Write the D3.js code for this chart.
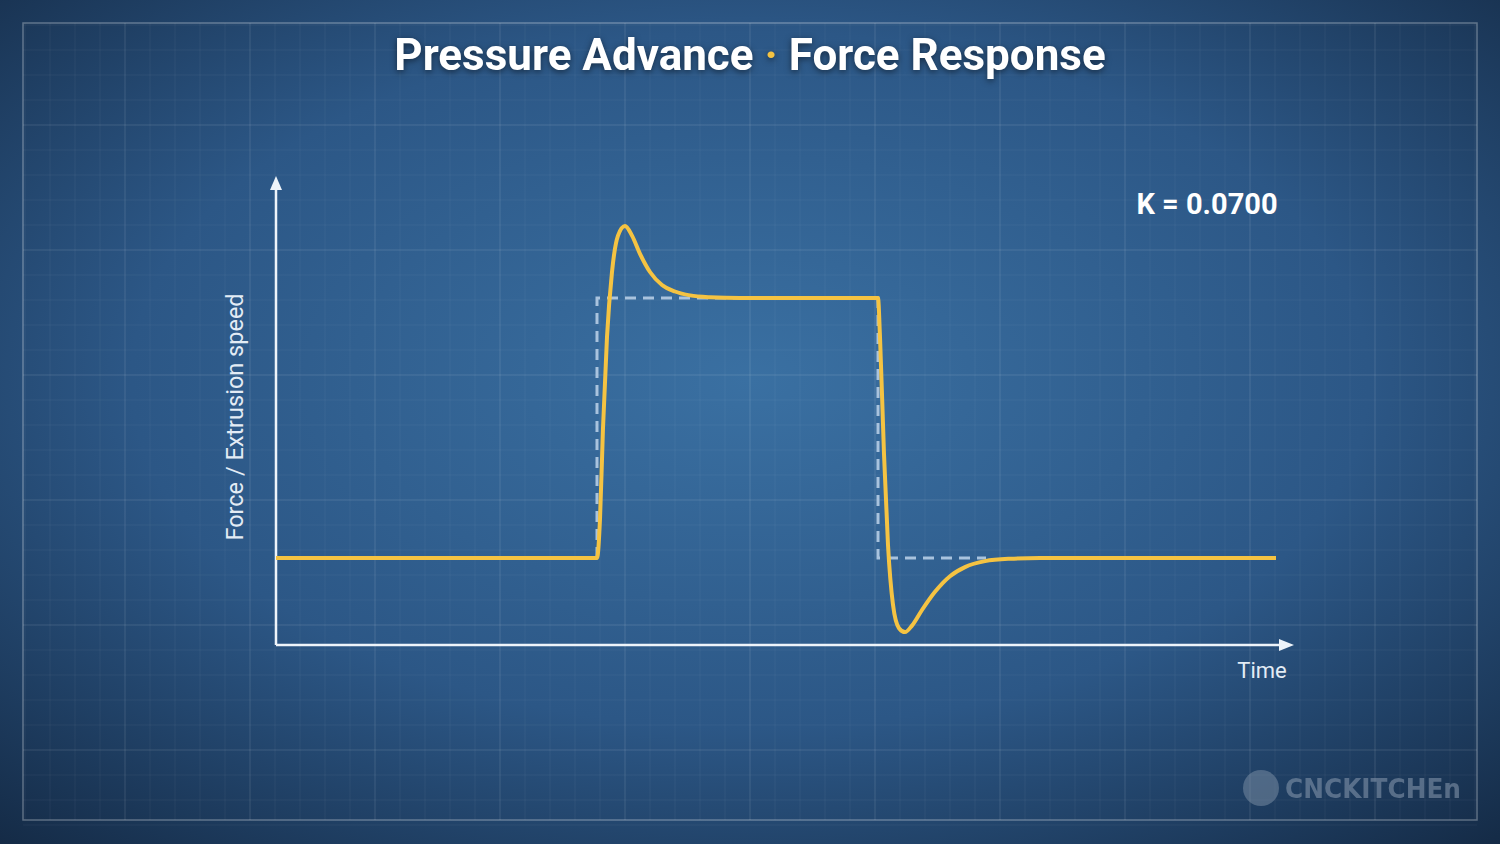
<!DOCTYPE html>
<html><head><meta charset="utf-8">
<script src="https://cdn.jsdelivr.net/npm/d3@7"></script>
<style>body{margin:0;background:#1e3a5c;overflow:hidden}</style>
</head><body><svg id="c" width="1500" height="844"></svg>
<script>
// data: time (picture-like units, 276..1276) and normalised force (0 = idle, 1 = commanded)
const curveTime  = [276,597,600,603,607,612,618,625,632,640,650,662,675,690,710,740,878,880,884,888,893,899,905,912,922,935,950,965,985,1010,1040,1276];
const curveForce = [0,0,0.15,0.5,0.85,1.1,1.24,1.277,1.24,1.17,1.1,1.05,1.025,1.01,1.003,1.0,1.0,0.85,0.4,0.05,-0.18,-0.27,-0.285,-0.26,-0.2,-0.13,-0.07,-0.035,-0.012,-0.003,0,0];
const stepTime  = [597,597,878,878,986];
const stepForce = [0,1,1,0,0];
const titleParts = ["Pressure Advance", "·", "Force Response"];
const kLabel = "K = 0.0700";

const W=1500,H=844;
const svg=d3.select("#c");
const defs=svg.append("defs");
const rg=defs.append("radialGradient").attr("id","bg").attr("cx","50%").attr("cy","45%").attr("r","75%");
rg.append("stop").attr("offset","0%").attr("stop-color","#3a70a2");
rg.append("stop").attr("offset","55%").attr("stop-color","#2c5786");
rg.append("stop").attr("offset","100%").attr("stop-color","#142a45");
svg.append("rect").attr("width",W).attr("height",H).attr("fill","url(#bg)");

// grid
const g=svg.append("g");
for(let xx=25;xx<W;xx+=25){g.append("line").attr("x1",xx).attr("x2",xx).attr("y1",23).attr("y2",820)
  .attr("stroke","#fff").attr("stroke-opacity",xx%125===0?0.13:0.05);}
for(let yy=25;yy<H;yy+=25){g.append("line").attr("y1",yy).attr("y2",yy).attr("x1",23).attr("x2",1477)
  .attr("stroke","#fff").attr("stroke-opacity",yy%125===0?0.13:0.05);}
svg.append("rect").attr("x",23).attr("y",23).attr("width",1454).attr("height",797)
  .attr("fill","none").attr("stroke","#fff").attr("stroke-opacity",0.3).attr("stroke-width",1.5);

const x=d3.scaleLinear().domain([276,1276]).range([276,1276]);
const y=d3.scaleLinear().domain([0,1]).range([558,298]);
const y0=y(-0.335);

// axes
svg.append("line").attr("x1",276).attr("x2",1283).attr("y1",y0).attr("y2",y0).attr("stroke","#eef4fa").attr("stroke-width",2.5);
svg.append("line").attr("x1",276).attr("x2",276).attr("y1",y0).attr("y2",188).attr("stroke","#eef4fa").attr("stroke-width",2.5);
svg.append("path").attr("d",`M1294,${y0} L1279,${y0-6} L1279,${y0+6} Z`).attr("fill","#eef4fa");
svg.append("path").attr("d","M276,176 L270,190 L282,190 Z").attr("fill","#eef4fa");

// dashed step
const stepLine=d3.line().x((d,i)=>x(stepTime[i])).y((d,i)=>y(stepForce[i]));
svg.append("path").attr("d",stepLine(stepTime)).attr("fill","none").attr("stroke","#a9c3de")
  .attr("stroke-width",3).attr("stroke-dasharray","11,7");

// force curve
const pts=curveTime.map((t,i)=>[x(t),y(curveForce[i])]);
svg.append("path").attr("d",d3.line().curve(d3.curveMonotoneX)(pts)).attr("fill","none")
  .attr("stroke","#f5c342").attr("stroke-width",4).attr("stroke-linejoin","round");

// texts
const t=svg.append("text").attr("x",750).attr("y",70).attr("text-anchor","middle")
  .attr("font-family","Roboto").attr("font-weight","bold").attr("font-size",44).attr("fill","#fff")
  .style("filter","drop-shadow(0 2px 3px rgba(0,0,0,0.5))");
t.append("tspan").text(titleParts[0]+" ");
t.append("tspan").attr("fill","#f5c342").text(titleParts[1]);
t.append("tspan").text(" "+titleParts[2]);
svg.append("text").attr("x",1207).attr("y",214).attr("text-anchor","middle").attr("font-family","Roboto")
  .attr("font-weight","bold").attr("font-size",29).attr("fill","#fff").text(kLabel);
svg.append("text").attr("x",1262).attr("y",678).attr("text-anchor","middle").attr("font-family","Roboto")
  .attr("font-size",22).attr("fill","#e3ecf5").text("Time");
svg.append("text").attr("transform","translate(243,417) rotate(-90)").attr("text-anchor","middle")
  .attr("font-family","Roboto").attr("font-size",23.5).attr("fill","#e3ecf5").text("Force / Extrusion speed");
// logo
svg.append("circle").attr("cx",1261).attr("cy",788).attr("r",18).attr("fill","#8a9bb0").attr("opacity",0.45);
svg.append("text").attr("x",1285).attr("y",798).attr("font-family","DejaVu Sans").attr("font-weight","bold")
  .attr("font-size",26).attr("textLength",176).attr("lengthAdjust","spacingAndGlyphs")
  .attr("fill","#8a9bb0").attr("opacity",0.55).text("CNCKITCHEn");
</script></body></html>
